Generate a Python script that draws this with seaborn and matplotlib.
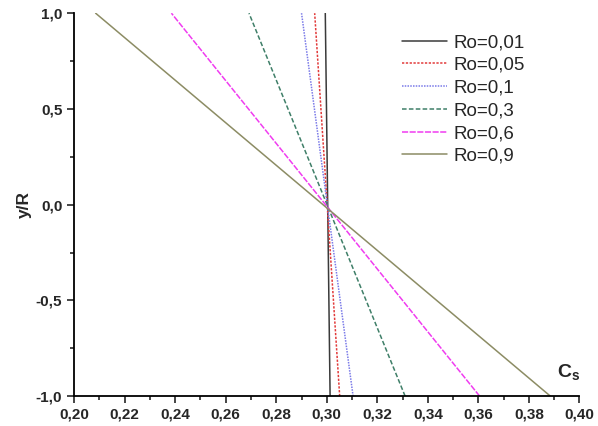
import numpy as np
import pandas as pd
import seaborn as sns
import matplotlib.pyplot as plt
from matplotlib.ticker import MultipleLocator, FuncFormatter

sns.set_style('ticks')
plt.rcParams['font.family'] = ['Liberation Sans', 'DejaVu Sans']

# values: Cs at y/R = -1 and y/R = 1
labels = ['Ro=0,01', 'Ro=0,05', 'Ro=0,1', 'Ro=0,3', 'Ro=0,6', 'Ro=0,9']
y_ends = [-1.0, 1.0]
cs_bottom = [0.3013, 0.3051, 0.3104, 0.3310, 0.3605, 0.3885]
cs_top = [0.2994, 0.2952, 0.2900, 0.2692, 0.2385, 0.2085]

colors = ['#3a3a3a', '#e23a3a', '#7a7ae8', '#3f7f68', '#f03cf0', '#8c8c64']
styles = ['-', (0, (1.5, 1)), (0, (1, 0.8)), (0, (3, 1.5)), (0, (4, 1)), '-']

rows = []
for lab, b, t in zip(labels, cs_bottom, cs_top):
    rows.append({'Ro': lab, 'Cs': b, 'yR': y_ends[0]})
    rows.append({'Ro': lab, 'Cs': t, 'yR': y_ends[1]})
df = pd.DataFrame(rows)

fig = plt.figure(figsize=(5.98, 4.26), dpi=100)
ax = fig.add_axes([0.124, 0.07, 0.845, 0.899])

for lab, c, ls in zip(labels, colors, styles):
    d = df[df['Ro'] == lab]
    sns.lineplot(data=d, x='Cs', y='yR', ax=ax, color=c, linestyle=ls,
                 linewidth=1.1, label=lab, sort=False, estimator=None)

ax.set_xlim(0.20, 0.40)
ax.set_ylim(-1.0, 1.0)
ax.xaxis.set_major_locator(MultipleLocator(0.02))
ax.xaxis.set_minor_locator(MultipleLocator(0.01))
ax.yaxis.set_major_locator(MultipleLocator(0.5))
ax.yaxis.set_minor_locator(MultipleLocator(0.25))
ax.xaxis.set_major_formatter(FuncFormatter(lambda v, p: f'{v:.2f}'.replace('.', ',')))
ax.yaxis.set_major_formatter(FuncFormatter(lambda v, p: f'{v:.1f}'.replace('.', ',')))
ax.tick_params(which='major', length=5, width=1.2, labelsize=11, direction='out')
ax.tick_params(which='minor', length=3, width=1.2, direction='out')
for t in ax.get_xticklabels() + ax.get_yticklabels():
    t.set_fontweight('bold')

sns.despine(ax=ax)
ax.spines['left'].set_linewidth(1.3)
ax.spines['bottom'].set_linewidth(1.3)
ax.spines['left'].set_color('black')
ax.spines['bottom'].set_color('black')

ax.set_xlabel('')
ax.set_ylabel('y/R', fontsize=12.5, fontweight='bold', labelpad=3)
ax.text(0.955, 0.035, r'C$_\mathregular{s}$', transform=ax.transAxes,
        fontsize=14, fontweight='bold', ha='left', va='bottom')

ax.legend(loc='upper left', bbox_to_anchor=(0.633, 0.965), frameon=False,
          fontsize=13.5, handlelength=2.4, handletextpad=0.35, labelspacing=0.3,
          borderaxespad=0)

fig.savefig('out.png', dpi=100)
